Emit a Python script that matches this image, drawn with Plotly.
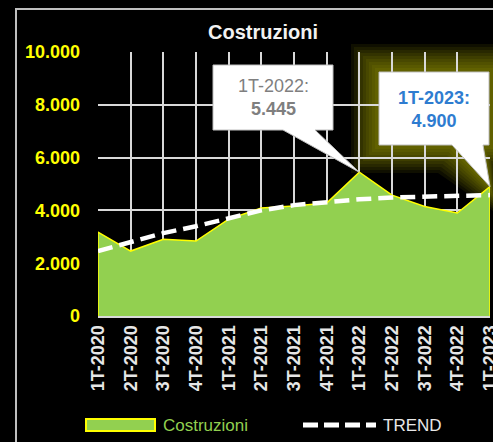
import plotly.graph_objects as go

# ---------------- data ----------------
categories = ["1T-2020", "2T-2020", "3T-2020", "4T-2020",
              "1T-2021", "2T-2021", "3T-2021", "4T-2021",
              "1T-2022", "2T-2022", "3T-2022", "4T-2022", "1T-2023"]
costruzioni = [3180, 2460, 2910, 2840, 3670, 4090, 4170, 4280, 5445, 4580, 4150, 3900, 4900]
trend = [2460, 2800, 3140, 3400, 3710, 4000, 4200, 4330, 4420, 4490, 4530, 4560, 4580]
y_ticks = [0, 2000, 4000, 6000, 8000, 10000]
y_ticktext = ["0", "2.000", "4.000", "6.000", "8.000", "10.000"]

# ---------------- layout constants ----------------
WIDTH, HEIGHT = 493, 442
L, R, T, B = 98, 3, 52, 126
PW = WIDTH - L - R
PH = HEIGHT - T - B
X_MAX = len(categories) - 1
Y_MAX = 10000

GREEN = "#92D050"
YELLOW = "#FFFF00"
GRID = "#D9D9D9"
FONT = "Liberation Sans"


def fx(px):  # pixel x -> paper x
    return (px - L) / PW


def fy(py):  # pixel y -> paper y
    return (T + PH - py) / PH


def fmt(v):
    return f"{v:,.0f}".replace(",", ".")


idx = list(range(len(categories)))

fig = go.Figure()

# Area (closed polygon so the yellow outline follows the edges)
fig.add_trace(go.Scatter(
    x=[idx[0]] + idx + [idx[-1]],
    y=[0] + costruzioni + [0],
    fill="toself", fillcolor=GREEN,
    line=dict(color=YELLOW, width=1.5),
    mode="lines", name="Costruzioni", showlegend=False, hoverinfo="skip"))

# Trend line
fig.add_trace(go.Scatter(
    x=idx, y=trend, mode="lines", name="TREND",
    line=dict(color="white", width=4.5, dash="15px,7px"),
    showlegend=False))

shapes = []

# Outer chart border
shapes.append(dict(type="rect", xref="paper", yref="paper",
                   x0=fx(16), x1=fx(520), y0=fy(9), y1=fy(470),
                   line=dict(color="#BFBFBF", width=2), fillcolor="rgba(0,0,0,0)",
                   layer="below"))


def callout_path(left, right, top, bottom, base0, base1, tip_x, tip_y, d=0.0):
    pts = [(left - d, top - d), (right + d, top - d), (right + d, bottom + d),
           (base1 + d * 0.5, bottom + d), None, (base0 - d * 0.5, bottom + d),
           (left - d, bottom + d)]
    s = ""
    for k, p in enumerate(pts):
        if p is None:
            s += f" L{tip_x},{tip_y}"
            continue
        cmd = "M" if k == 0 else " L"
        s += f"{cmd}{fx(p[0])},{fy(p[1])}"
    return s + " Z"


# Callout 1 (1T-2022)
i1 = 8
tip1 = (idx[i1] / X_MAX, costruzioni[i1] / Y_MAX)
# Callout 2 (1T-2023) with glow
i2 = 12
tip2 = (idx[i2] / X_MAX, costruzioni[i2] / Y_MAX)

# glow around callout 2
for d in [28, 25, 22, 19, 16, 13, 10, 7, 4]:
    shapes.append(dict(type="path", xref="paper", yref="paper",
                       path=callout_path(379, 489, 72, 145, 452, 483,
                                         tip2[0] + d / PW * 0.3, tip2[1] - d / PH,
                                         d=d),
                       fillcolor="#BDBD00", opacity=0.08,
                       line=dict(width=0), layer="below"))

shapes.append(dict(type="path", xref="paper", yref="paper",
                   path=callout_path(213, 333, 65, 130, 283, 315, tip1[0], tip1[1]),
                   fillcolor="white", line=dict(color="#BFBFBF", width=1), layer="above"))
shapes.append(dict(type="path", xref="paper", yref="paper",
                   path=callout_path(379, 489, 72, 145, 452, 483, tip2[0], tip2[1]),
                   fillcolor="white", line=dict(color="#BFBFBF", width=1), layer="above"))

# Manual legend
shapes.append(dict(type="rect", xref="paper", yref="paper",
                   x0=fx(86), x1=fx(155), y0=fy(419), y1=fy(431),
                   fillcolor=GREEN, line=dict(color=YELLOW, width=2)))
shapes.append(dict(type="line", xref="paper", yref="paper",
                   x0=fx(303), x1=fx(376), y0=fy(425), y1=fy(425),
                   line=dict(color="white", width=5, dash="15px,6px")))

annotations = [
    dict(xref="paper", yref="paper", x=fx(273), y=fy(98),
         text=f"{categories[i1]}:<br><b>{fmt(costruzioni[i1])}</b>",
         showarrow=False, font=dict(family=FONT, size=18, color="#7F7F7F"),
         align="center", xanchor="center", yanchor="middle"),
    dict(xref="paper", yref="paper", x=fx(434), y=fy(109),
         text=f"<b>{categories[i2]}:<br>{fmt(costruzioni[i2])}</b>",
         showarrow=False, font=dict(family=FONT, size=18, color="#2E7CD0"),
         align="center", xanchor="center", yanchor="middle"),
    dict(xref="paper", yref="paper", x=fx(161), y=fy(425),
         text="Costruzioni", showarrow=False, xanchor="left", yanchor="middle",
         font=dict(family=FONT, size=17, color=GREEN)),
    dict(xref="paper", yref="paper", x=fx(381), y=fy(425),
         text="TREND", showarrow=False, xanchor="left", yanchor="middle",
         font=dict(family=FONT, size=17, color="#E8E8E8")),
]

fig.update_layout(
    width=WIDTH, height=HEIGHT,
    margin=dict(l=L, r=R, t=T, b=B),
    paper_bgcolor="black", plot_bgcolor="black",
    title=dict(text="<b>Costruzioni</b>", x=fx(263), xref="paper",
               y=1 - 32 / HEIGHT, yref="container", xanchor="center", yanchor="middle",
               font=dict(family=FONT, size=20, color="#F2F2F2")),
    shapes=shapes, annotations=annotations,
    showlegend=False,
    xaxis=dict(range=[0, X_MAX], tickmode="array", tickvals=idx, ticktext=categories,
               tickangle=-90, showgrid=True, gridcolor=GRID, gridwidth=1.5,
               zeroline=False, showline=True, linecolor=GRID, linewidth=2,
               ticks="", automargin=False, ticklabeloverflow="allow",
               tickfont=dict(family=FONT, size=18, color="#E6E6E6", weight="bold")),
    yaxis=dict(range=[0, Y_MAX], tickmode="array", tickvals=y_ticks, ticktext=y_ticktext,
               showgrid=True, gridcolor=GRID, gridwidth=1.5, zeroline=False,
               showline=False, ticks="", automargin=False, ticklabelstandoff=17,
               tickfont=dict(family=FONT, size=18, color=YELLOW, weight="bold")),
)

fig.write_html("out.html", config={"displayModeBar": False})

# remove the default page margin so the figure sits at the window's top-left
with open("out.html", encoding="utf-8") as f:
    html = f.read()
html = html.replace("<head>", "<head><style>html,body{margin:0;padding:0;overflow:hidden;background:#000}</style>", 1)
with open("out.html", "w", encoding="utf-8") as f:
    f.write(html)
